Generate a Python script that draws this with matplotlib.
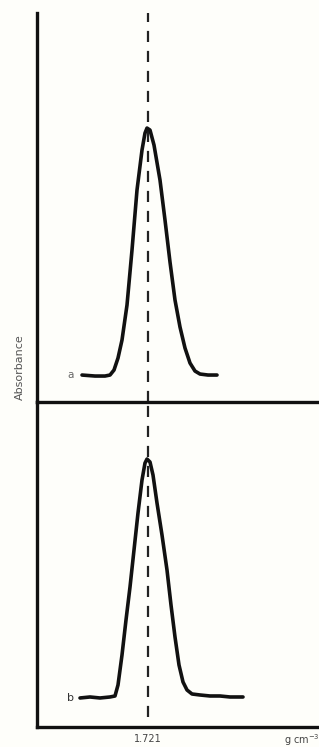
import numpy as np
import matplotlib
matplotlib.use("Agg")
import matplotlib.pyplot as plt

#---------------- DADOS ----------------

# posicao ao longo do gradiente (unidades arbitrarias, 0 = eixo da absorbancia)
xA = [45, 58, 68, 73, 77, 81, 85, 90, 95, 100, 105, 108, 110, 113, 117, 123,
      128, 133, 138, 143, 148, 153, 158, 163, 171, 180]
yA = [27, 26, 26, 27, 32, 44, 62, 97, 152, 212, 252, 269, 274, 272, 257, 222,
      182, 140, 102, 75, 54, 39, 31, 28, 27, 27]

xB = [43, 53, 63, 73, 78, 81, 85, 89, 93, 97, 101, 105, 108, 110, 113, 116,
      120, 125, 130, 134, 138, 142, 146, 150, 155, 163, 173, 183, 193, 206]
yB = [29, 30, 29, 30, 31, 42, 72, 107, 140, 177, 214, 247, 264, 268, 265, 252,
      224, 192, 157, 122, 90, 62, 45, 37, 33, 32, 31, 31, 30, 30]

pico = 111          # posicao da densidade 1.721
rotulo_pico = "1.721"
rotulos = ["a", "b"]

#---------------- FIGURA ----------------

fundo = "#fefefa"
fig = plt.figure(figsize=(3.19, 7.47), dpi=100, facecolor=fundo)

axA = fig.add_axes([0.116, 0.4618, 0.884, 0.5207], facecolor="none")
axB = fig.add_axes([0.116, 0.0268, 0.884, 0.435], facecolor="none")

for ax in (axA, axB):
    ax.set_xlim(0, 282)
    for s in ("top", "right"):
        ax.spines[s].set_visible(False)
    for s in ("left", "bottom"):
        ax.spines[s].set_linewidth(2.4)
        ax.spines[s].set_color("#111111")
        ax.spines[s].set_zorder(5)
    ax.set_yticks([])

axA.set_ylim(0, 389)
axB.set_ylim(0, 325)

axA.plot(xA, yA, color="#111111", lw=2.6, solid_capstyle="round",
         solid_joinstyle="round", zorder=3)
axB.plot(xB, yB, color="#111111", lw=2.6, solid_capstyle="round",
         solid_joinstyle="round", zorder=3)

# linha tracejada no pico
axA.axvline(pico, color="#222222", lw=1.6, ls=(0, (5, 4)), zorder=2)
axB.axvline(pico, ymin=0.03, color="#222222", lw=1.6, ls=(0, (5, 4)), zorder=2)

axA.set_xticks([])
axB.set_xticks([pico])
axB.set_xticklabels([rotulo_pico], fontsize=7, color="#444444")
axB.tick_params(axis="x", length=0, pad=5)

axA.text(xA[0] - 8, yA[0], rotulos[0], fontsize=7.5, color="#666666",
         ha="right", va="center")
axB.text(xB[0] - 6, yB[0], rotulos[1], fontsize=8, color="#333333",
         ha="right", va="center")

fig.text(0.063, 0.508, "Absorbance", rotation=90, fontsize=8,
         color="#555555", ha="center", va="center")
fig.text(0.945, 0.009, "g cm$^{-3}$", fontsize=7, color="#444444",
         ha="center", va="center")

fig.savefig("out.png", dpi=100, facecolor=fundo)
